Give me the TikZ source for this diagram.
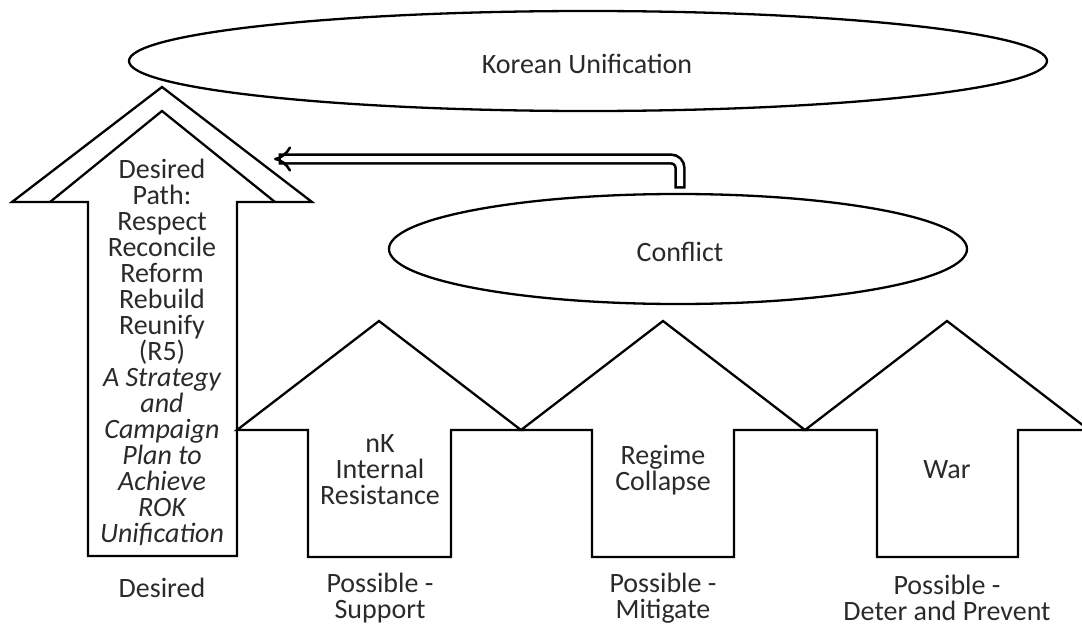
\documentclass[tikz,border=0pt]{standalone}
\usepackage{fontspec}
\setmainfont{Carlito}
\usetikzlibrary{shapes.geometric,arrows.meta}
\definecolor{txt}{HTML}{2A2A2A}
\tikzset{
  outl/.style={draw=black,line width=2.3pt,line join=miter,fill=white},
  ell/.style={ellipse,draw=black,line width=2.3pt,fill=white,inner sep=0pt},
  lbl/.style={text=txt,align=center,font=\fontsize{28}{26}\selectfont,inner sep=0pt},
  dbl/.style={draw=black,line width=2.6pt,double=white,double distance=6pt,line cap=rect,rounded corners=9pt,-{Implies[scale=1.5]}}
}
\begin{document}
\begin{tikzpicture}[x=1pt,y=-1pt]
\useasboundingbox (0,0) rectangle (1082,626);
\clip (0,0) rectangle (1082,626);
% ellipses
\node[ell,minimum width=918pt,minimum height=100pt] (ku) at (588,61) {};
\node[lbl] (kut) at (587,64) {Korean Unification};
\node[ell,minimum width=578pt,minimum height=110pt] (cf) at (678,249) {};
\node[lbl] (cft) at (680,252) {Conflict};
% left desired arrow
\draw[outl] (12,202) -- (162,87) -- (312,202) -- (237,202) -- (237,556) -- (88,556) -- (88,202) -- cycle;
\draw[outl,fill=none] (50,202) -- (162,111) -- (275,202);
% bottom arrows
\draw[outl] (237,430) -- (379,321) -- (521,430) -- (451,430) -- (451,557) -- (308,557) -- (308,430) -- cycle;
\draw[outl] (521,430) -- (663,321) -- (805,430) -- (734,430) -- (734,557) -- (592,557) -- (592,430) -- cycle;
\draw[outl] (805,430) -- (947,321) -- (1089,430) -- (1018,430) -- (1018,557) -- (877,557) -- (877,430) -- cycle;
% bent arrow
\coordinate (bs) at (680,183);
\coordinate (be) at (274,159);
\draw[dbl] (bs) |- (be);
% texts
\node[lbl] (dt) at (162,352) {Desired\\Path:\\Respect\\Reconcile\\Reform\\Rebuild\\Reunify\\(R5)\\\itshape A Strategy\\\itshape and\\\itshape Campaign\\\itshape Plan to\\\itshape Achieve\\\itshape ROK\\\itshape Unification};
\node[lbl] (t1) at (380,470) {nK\\Internal\\Resistance};
\node[lbl] (t2) at (663,470) {Regime\\Collapse};
\node[lbl] (t3) at (947,470) {War};
\node[lbl] (b0) at (162,588) {Desired};
\node[lbl] (b1) at (380,598) {Possible -\\Support};
\node[lbl] (b2) at (663,598) {Possible -\\Mitigate};
\node[lbl] (b3) at (947,598) {Possible -\\Deter and Prevent};
\end{tikzpicture}
\end{document}
